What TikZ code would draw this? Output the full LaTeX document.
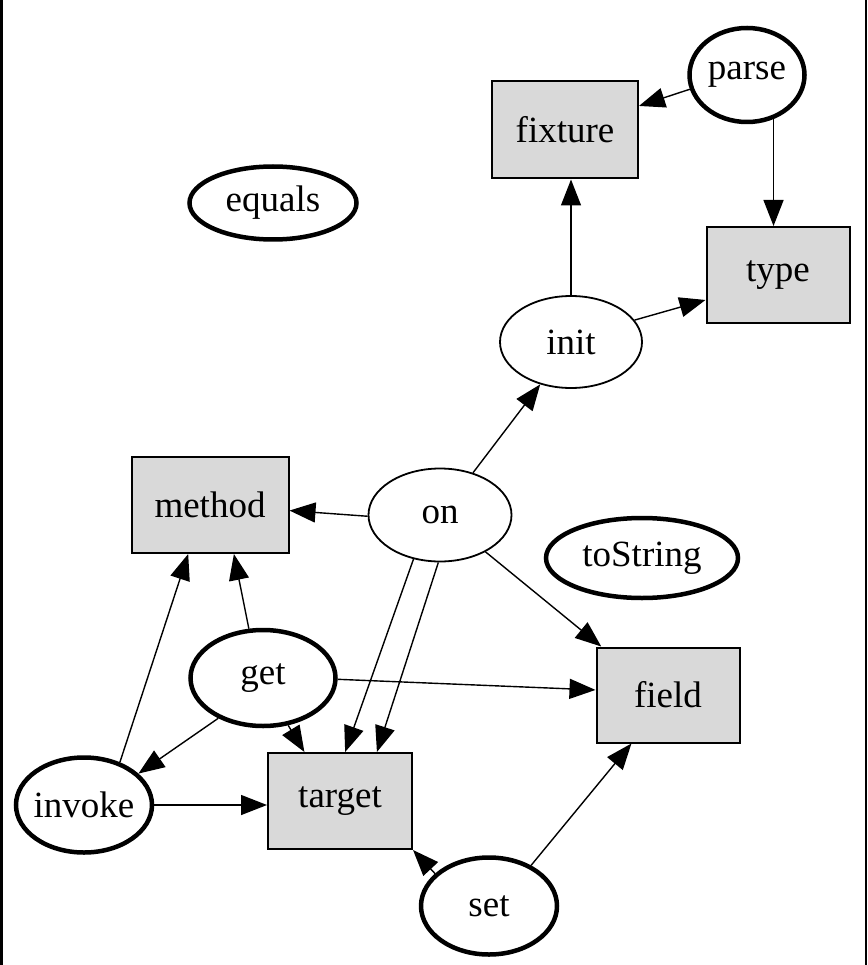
\documentclass[tikz,border=0pt]{standalone}
\usepackage{fontspec}
\setmainfont{Liberation Serif}
\usetikzlibrary{shapes.geometric,arrows.meta}
\begin{document}
\begin{tikzpicture}[x=1pt,y=-1pt,
  every node/.style={font=\fontsize{37}{42}\selectfont, inner sep=0pt},
  thickell/.style={ellipse, draw, line width=4.5pt, inner xsep=-20pt, inner ysep=-10pt},
  thinell/.style={ellipse, draw, line width=1.8pt, inner xsep=-20pt, inner ysep=-10pt},
  graybox/.style={rectangle, draw, fill=gray!30, line width=2pt},
  edge/.style={draw, line width=1.4pt, -{Triangle[length=26pt,width=20pt]}}
]
\useasboundingbox (0,0) rectangle (867,965);
\fill[black] (0,0) rectangle (2.5,965);
\fill[black] (865,0) rectangle (867,965);

\node[thickell, minimum width=115pt, minimum height=94pt] (parse) at (747,75) {parse};
\node[graybox, minimum width=146pt, minimum height=97pt] (fixture) at (565,130) {fixture};
\node[thickell, minimum width=167pt, minimum height=73pt] (equals) at (273,203) {equals};
\node[graybox, minimum width=143pt, minimum height=96pt] (type) at (778,275) {type};
\node[thinell, minimum width=142pt, minimum height=92pt] (init) at (571,342) {init};
\node[graybox, minimum width=157pt, minimum height=96pt] (method) at (210,505) {method};
\node[thinell, minimum width=143pt, minimum height=93pt] (on) at (440,515) {on};
\node[thickell, minimum width=192pt, minimum height=80pt] (toString) at (642,558) {toString};
\node[graybox, minimum width=143pt, minimum height=95pt] (field) at (668,695) {field};
\node[thickell, minimum width=145pt, minimum height=96pt] (get) at (263,678) {get};
\node[thickell, minimum width=136pt, minimum height=95pt] (invoke) at (84,805) {invoke};
\node[graybox, minimum width=144pt, minimum height=96pt] (target) at (340,801) {target};
\node[thickell, minimum width=136pt, minimum height=97pt] (set) at (489,906) {set};

\path[edge] (parse.194) -- (fixture.18);
\path[edge] (parse.-59) -- (parse.-59 |- type.north);
\path[edge] (init.north) -- (init.north |- fixture.south);
\path[edge] (init.19) -- (type.199);
\path[edge] (on.52) -- (init.234);
\path[edge] (on.181) -- (method.-4);
\path[edge] (on.-121) -- (target.84);
\path[edge] (on.-92) -- (target.53);
\path[edge] (on.-39) -- (field.144);
\path[edge] (get.106) -- (method.-64);
\path[edge] (get.-1) -- (field.176);
\path[edge] (get.-62) -- (target.126);
\path[edge] (get.222) -- (invoke.30);
\path[edge] (invoke.50) -- (method.-114);
\path[edge] (invoke.east) -- (invoke.east -| target.west);
\path[edge] (set.149) -- (target.south east);
\path[edge] (set.44) -- (field.-127);
\end{tikzpicture}
\end{document}
